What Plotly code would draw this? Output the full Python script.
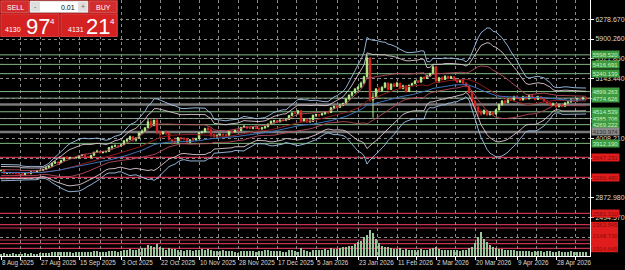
import plotly.graph_objects as go
import pandas as pd

# ---------------- data ----------------
pre_closes = [3355, 3343, 3324, 3347, 3339, 3350, 3397, 3432, 3387, 3368,
              3337, 3314, 3326, 3275, 3290, 3362, 3373, 3381, 3370, 3396]

opens = [3396, 3398, 3342, 3348, 3356, 3336, 3336, 3332, 3315, 3348,
         3339, 3372, 3365, 3393, 3397, 3416, 3448, 3476, 3533, 3559,
         3545, 3587, 3636, 3625, 3641, 3634, 3643, 3679, 3690, 3659,
         3644, 3685, 3746, 3763, 3736, 3749, 3759, 3833, 3858, 3866,
         3857, 3886, 3960, 3985, 4040, 3976, 4017, 4110, 4142, 4209,
         4326, 4251, 4356, 4125, 4095, 4126, 4112, 3982, 3952, 3930,
         4025, 4002, 4000, 3932, 3980, 3977, 4001, 4115, 4128, 4195,
         4171, 4084, 4046, 4067, 4078, 4077, 4065, 4135, 4130, 4164,
         4155, 4218, 4231, 4205, 4200, 4210, 4197, 4190, 4208, 4229,
         4280, 4330, 4345, 4322, 4358, 4350, 4365, 4445, 4490, 4480,
         4532, 4332, 4372, 4318, 4330, 4448, 4460, 4455, 4475, 4510,
         4500, 4590, 4615, 4600, 4640, 4670, 4760, 4830, 4880, 4950,
         4985, 5060, 5180, 5540, 4740, 4790, 4950, 4920, 4980, 5060,
         4940, 5040, 5000, 5060, 4960, 5010, 4900, 5020, 5050, 5100,
         5080, 5170, 5150, 5200, 5240, 5370, 5100, 5160, 5130, 5190,
         5150, 5180, 5120, 5080, 5110, 5060, 5000, 4880, 4720, 4600,
         4520, 4480, 4540, 4460, 4500, 4470, 4550, 4650, 4720, 4690,
         4760, 4740, 4800, 4770, 4740, 4800, 4760, 4820, 4790, 4750,
         4800, 4760, 4720, 4680, 4640, 4660, 4610, 4650, 4620, 4680,
         4700, 4740, 4720, 4760, 4750, 4780]

highs = [3409, 3405, 3360, 3370, 3360, 3345, 3350, 3338, 3350, 3352,
         3378, 3376, 3395, 3402, 3423, 3454, 3490, 3540, 3578, 3565,
         3600, 3645, 3674, 3655, 3650, 3656, 3686, 3703, 3707, 3670,
         3690, 3750, 3790, 3768, 3760, 3762, 3835, 3872, 3895, 3877,
         3890, 3976, 3990, 4060, 4045, 4020, 4117, 4180, 4218, 4380,
         4378, 4359, 4381, 4160, 4145, 4160, 4115, 3988, 4030, 4030,
         4035, 4030, 4005, 3995, 4025, 4020, 4120, 4150, 4210, 4245,
         4210, 4090, 4080, 4110, 4100, 4090, 4140, 4155, 4170, 4175,
         4225, 4265, 4240, 4228, 4225, 4260, 4215, 4220, 4240, 4290,
         4350, 4360, 4350, 4370, 4375, 4380, 4450, 4500, 4525, 4550,
         4550, 4390, 4380, 4400, 4460, 4480, 4470, 4500, 4520, 4530,
         4600, 4635, 4640, 4660, 4690, 4770, 4845, 4890, 4965, 5000,
         5090, 5200, 5595, 5550, 4880, 4965, 4990, 5000, 5080, 5070,
         5060, 5070, 5090, 5065, 5030, 5020, 5030, 5070, 5120, 5120,
         5180, 5190, 5220, 5260, 5410, 5390, 5180, 5190, 5210, 5200,
         5200, 5190, 5130, 5130, 5120, 5080, 5010, 4900, 4740, 4640,
         4560, 4560, 4550, 4530, 4520, 4570, 4670, 4740, 4750, 4780,
         4790, 4820, 4830, 4790, 4820, 4815, 4840, 4840, 4800, 4820,
         4810, 4770, 4730, 4700, 4690, 4670, 4670, 4660, 4700, 4720,
         4760, 4750, 4780, 4775, 4800, 4790]

lows = [3378, 3340, 3332, 3345, 3330, 3325, 3322, 3312, 3311, 3330,
        3322, 3358, 3352, 3380, 3385, 3404, 3440, 3470, 3525, 3510,
        3540, 3580, 3620, 3620, 3615, 3628, 3635, 3670, 3646, 3632,
        3640, 3680, 3740, 3720, 3722, 3740, 3755, 3790, 3852, 3830,
        3850, 3885, 3935, 3980, 3945, 3945, 4010, 4100, 4140, 4205,
        4218, 4240, 4080, 4004, 4080, 4075, 3970, 3887, 3915, 3920,
        3965, 3965, 3928, 3925, 3970, 3968, 3998, 4105, 4120, 4160,
        4032, 4010, 4000, 4060, 4040, 4020, 4060, 4100, 4125, 4140,
        4150, 4210, 4185, 4190, 4180, 4190, 4170, 4170, 4190, 4220,
        4270, 4290, 4310, 4315, 4330, 4335, 4360, 4430, 4470, 4475,
        4310, 4320, 4300, 4310, 4325, 4420, 4415, 4440, 4460, 4475,
        4495, 4570, 4580, 4590, 4620, 4660, 4740, 4800, 4860, 4920,
        4970, 5040, 5170, 4700, 4400, 4760, 4880, 4900, 4960, 4920,
        4930, 4980, 4990, 4940, 4940, 4880, 4890, 5000, 5040, 5060,
        5070, 5130, 5140, 5180, 5230, 5070, 5060, 5110, 5120, 5130,
        5140, 5100, 5060, 5070, 5040, 4980, 4860, 4700, 4570, 4420,
        4440, 4460, 4430, 4440, 4450, 4460, 4540, 4630, 4660, 4680,
        4720, 4730, 4750, 4720, 4730, 4740, 4750, 4770, 4730, 4740,
        4740, 4700, 4660, 4620, 4625, 4590, 4600, 4600, 4610, 4670,
        4690, 4700, 4710, 4730, 4740, 4745]

closes = [3398, 3342, 3348, 3356, 3336, 3336, 3332, 3315, 3348, 3339,
          3372, 3365, 3393, 3397, 3416, 3448, 3476, 3533, 3559, 3545,
          3587, 3636, 3625, 3641, 3634, 3643, 3679, 3690, 3659, 3644,
          3685, 3746, 3763, 3736, 3749, 3759, 3833, 3858, 3866, 3857,
          3886, 3960, 3985, 4040, 3976, 4017, 4110, 4142, 4209, 4326,
          4251, 4356, 4125, 4095, 4126, 4112, 3982, 3952, 3930, 4025,
          4002, 4000, 3932, 3980, 3977, 4001, 4115, 4128, 4195, 4171,
          4084, 4046, 4067, 4078, 4077, 4065, 4135, 4130, 4164, 4155,
          4218, 4231, 4205, 4200, 4210, 4197, 4190, 4208, 4229, 4280,
          4330, 4345, 4322, 4358, 4350, 4365, 4445, 4490, 4480, 4532,
          4332, 4372, 4318, 4330, 4448, 4460, 4455, 4475, 4510, 4500,
          4590, 4615, 4600, 4640, 4670, 4760, 4830, 4880, 4950, 4985,
          5060, 5180, 5540, 4740, 4790, 4950, 4920, 4980, 5060, 4940,
          5040, 5000, 5060, 4960, 5010, 4900, 5020, 5050, 5100, 5080,
          5170, 5150, 5200, 5240, 5370, 5100, 5160, 5130, 5190, 5150,
          5180, 5120, 5080, 5110, 5060, 5000, 4880, 4720, 4600, 4520,
          4480, 4540, 4460, 4500, 4470, 4550, 4650, 4720, 4690, 4760,
          4740, 4800, 4770, 4740, 4800, 4760, 4820, 4790, 4750, 4800,
          4760, 4720, 4680, 4640, 4660, 4610, 4650, 4620, 4680, 4700,
          4740, 4720, 4760, 4750, 4780, 4760]

volumes = [25, 30, 28, 26, 32, 22, 24, 27, 30, 26, 33, 25, 28, 30, 34, 36,
           40, 48, 45, 42, 50, 46, 44, 42, 40, 45, 48, 52, 46, 43, 50, 55, 58, 52, 48, 45, 60, 62, 55, 50, 58,
           70, 65, 80, 75, 72, 85, 88, 95, 130, 120, 110, 145, 100, 90, 75, 95,
           85, 80, 70, 68, 60, 72, 65, 62, 75, 70, 80, 72, 85, 70, 62, 60, 58, 65, 55, 60, 58, 52, 40, 62,
           58, 62, 55, 60, 52, 55, 58, 65, 70, 62, 58, 55, 60, 52, 48, 65, 72, 60, 50, 95, 70, 55, 45, 70,
           75, 68, 70, 80, 72, 90, 85, 80, 95, 100, 110, 120, 115, 140, 160, 180, 220, 250, 305, 270, 200,
           150, 120, 110, 100, 95, 85, 80, 90, 75, 85, 70, 75, 68, 72, 80, 70, 75, 82, 95, 110,
           85, 75, 70, 72, 65, 68, 70, 62, 65, 72,
           95, 110, 150, 220, 280, 200, 160, 130, 110, 95, 85, 80, 70, 75, 68, 65,
           60, 58, 62, 55, 60, 52, 58, 55, 60, 50, 55, 58, 52, 48, 55, 50, 52, 48, 55, 50, 45, 52, 48, 50]

date_labels = ["8 Aug 2025", "27 Aug 2025", "15 Sep 2025", "3 Oct 2025", "22 Oct 2025",
               "10 Nov 2025", "28 Nov 2025", "17 Dec 2025", "5 Jan 2026", "23 Jan 2026",
               "11 Feb 2026", "2 Mar 2026", "20 Mar 2026", "9 Apr 2026", "28 Apr 2026"]
date_label_bars = [0, 13, 26, 40, 53, 66, 79, 92, 105, 119, 132, 145, 158, 172, 185]

price_grid_base = 2116.16
price_grid_step = 378.41

green_levels = [5598.520, 5416.691, 5240.139, 4899.263, 4774.626,
                4514.539, 4385.706, 4269.222, 3912.190]
gray_levels = [4652.0, 4130.974]
red_levels = [3647.231, 3266.480, 2581.310, 2363.845, 2301.120,
              2072.450, 2002.318, 1914.645]
red_block_labels = [2363.845, 2148.730, 1914.645]   # texts legible inside the merged red block

bid_big, ask_big = "97", "21"
bid_small, ask_small = "4130", "4131"
lot_text = "0.01"

# ---------------- indicators: Bollinger-type bands on the closes ----------------
n = len(closes)
c_all = pd.Series(pre_closes + closes, dtype=float)
mid = c_all.rolling(20, min_periods=1).mean()
sd = c_all.rolling(20, min_periods=2).std(ddof=0).bfill()
ema = c_all.ewm(span=34, adjust=False).mean()
k0 = len(pre_closes)
xs = list(range(n))

def vis(s):
    return s.iloc[k0:].tolist()

# ---------------- figure ----------------
fig = go.Figure()

fig.add_trace(go.Bar(x=xs, y=volumes, yaxis="y2", marker_color="#9cc49c",
                     marker_line_width=0, width=0.35, showlegend=False))

band_specs = [(4.1, "#a2c4ea", 0.9), (3.1, "#dcc8d2", 0.9), (1.5, "#b44a5c", 0.9)]
for k, col, w in band_specs:
    fig.add_trace(go.Scatter(x=xs, y=vis(mid + k * sd), mode="lines",
                             line=dict(color=col, width=w), showlegend=False))
    fig.add_trace(go.Scatter(x=xs, y=vis(mid - k * sd), mode="lines",
                             line=dict(color=col, width=w), showlegend=False))
fig.add_trace(go.Scatter(x=xs, y=vis(mid), mode="lines",
                         line=dict(color="#8e1c1c", width=1), showlegend=False))
fig.add_trace(go.Scatter(x=xs, y=vis(ema), mode="lines",
                         line=dict(color="#3f6fb8", width=1), showlegend=False))

fig.add_trace(go.Candlestick(
    x=xs, open=opens, high=highs, low=lows, close=closes,
    increasing=dict(line=dict(color="#b8ee8c", width=1), fillcolor="#b8ee8c"),
    decreasing=dict(line=dict(color="#e02424", width=1), fillcolor="#e02424"),
    whiskerwidth=0, showlegend=False))

# horizontal level lines
shapes = []
for lv in green_levels:
    shapes.append(dict(type="line", xref="paper", x0=0, x1=1, yref="y", y0=lv, y1=lv,
                       line=dict(color="#7fb87f", width=1), layer="between"))
for lv in gray_levels:
    shapes.append(dict(type="line", xref="paper", x0=0, x1=1, yref="y", y0=lv, y1=lv,
                       line=dict(color="#7a7a7a", width=2.5), layer="between"))
for lv in red_levels:
    shapes.append(dict(type="line", xref="paper", x0=0, x1=1, yref="y", y0=lv, y1=lv,
                       line=dict(color="#c8304e", width=1.2), layer="between"))

# pixel helpers for the plot area
PW, PH = 590.0, 256.0
def px(v):
    return v / PW
def py(v):
    return 1 - v / PH

# merged red label block for the closely spaced low levels
shapes.append(dict(type="rect", xref="paper", yref="y", x0=px(591), x1=px(618),
                   y0=min(red_levels) - 75, y1=red_levels[3] + 55,
                   fillcolor="#e01c1c", line=dict(width=0), layer="above"))

def rect(x0, y0, x1, y1, fill, line=None):
    shapes.append(dict(type="rect", xref="paper", yref="paper",
                       x0=px(x0), x1=px(x1), y0=py(y1), y1=py(y0),
                       fillcolor=fill, line=dict(width=0.6 if line else 0, color=line or fill),
                       layer="above"))

# one-click trading panel
rect(0, 0, 118, 37, "#a81414")
rect(1, 1, 29, 12.5, "#d22c2c", "#e86a6a")
rect(30, 1, 88, 12.5, "#ffffff", "#bbbbbb")
rect(31, 2, 40, 11.5, "#dedede")
rect(78, 2, 87, 11.5, "#dedede")
rect(89, 1, 117, 12.5, "#d22c2c", "#e86a6a")
rect(1, 14, 59, 36.5, "#d42222", "#e65050")
rect(61, 14, 117, 36.5, "#d42222", "#e65050")

annotations = []
def txt(x, y, s, size, color, anchor="center", family="Liberation Sans"):
    annotations.append(dict(xref="paper", yref="paper", x=px(x), y=py(y), text=s,
                            showarrow=False, xanchor=anchor, yanchor="middle",
                            font=dict(size=size, color=color, family=family)))

txt(15.5, 7, "SELL", 7, "#ffffff")
txt(35.5, 6.5, "-", 7, "#666666")
txt(68, 7, lot_text, 7, "#000000")
txt(82.5, 6.5, "+", 7, "#666666")
txt(103, 7, "BUY", 7, "#ffffff")
txt(2.5, 29.5, bid_small, 7, "#ffffff", "left")
txt(37.5, 26, bid_big, 22, "#ffffff")
txt(52, 21, "4", 8, "#ffffff")
txt(66, 29.5, ask_small, 7, "#ffffff", "left")
txt(98, 26, ask_big, 22, "#ffffff")
txt(112, 21, "4", 8, "#ffffff")

# price label boxes on the right scale
def box(lv, bg, fg):
    annotations.append(dict(xref="paper", yref="y", x=px(591), y=lv, text=f"{lv:.3f}",
                            showarrow=False, xanchor="left", yanchor="middle",
                            bgcolor=bg, width=27, height=7, borderpad=0,
                            font=dict(size=6, color=fg, family="Liberation Sans")))
for lv in green_levels:
    box(lv, "#3e9a3e", "#c8f0c8")
box(gray_levels[1], "#8a8a8a", "#303030")
for lv in red_levels[:3]:
    box(lv, "#e01c1c", "#8a0c0c")
for lv in red_block_labels:
    annotations.append(dict(xref="paper", yref="y", x=px(591), y=lv, text=f"{lv:.3f}",
                            showarrow=False, xanchor="left", yanchor="middle",
                            width=27, height=7, borderpad=0,
                            font=dict(size=6, color="#8a0c0c", family="Liberation Sans")))

# axes ticks (labels covered by a level box are left blank, as on the terminal)
all_levels = green_levels + gray_levels[1:] + red_levels
y_ticks = [price_grid_base + k * price_grid_step for k in range(12)]
y_text = ["" if min(abs(v - lv) for lv in all_levels) < 60 else f"{v:.3f}" for v in y_ticks]

x_ticks, x_text = [], []
for i, (b, lab) in enumerate(zip(date_label_bars, date_labels)):
    x_ticks.append(b)
    x_text.append(lab)
    nb = date_label_bars[i + 1] if i + 1 < len(date_label_bars) else b + 13.3
    x_ticks.append((b + nb) / 2)
    x_text.append("")

fig.update_layout(
    width=625, height=270,
    margin=dict(l=0, r=35, t=0, b=14),
    paper_bgcolor="#000000", plot_bgcolor="#000000",
    showlegend=False,
    shapes=shapes, annotations=annotations,
    font=dict(family="Liberation Sans", color="#d8d8d8"),
    xaxis=dict(range=[-1 / 3, 590 / 3 - 1 / 3], tickvals=x_ticks, ticktext=x_text,
               tickfont=dict(size=6.3, color="#d8d8d8"), ticklabelposition="outside right",
               tickangle=0, automargin=False,
               showgrid=True, gridcolor="#8a8a8a", griddash="3px,3px", gridwidth=0.8,
               ticks="outside", ticklen=3, tickcolor="#ffffff",
               showline=True, linecolor="#ffffff", linewidth=1, zeroline=False,
               rangeslider=dict(visible=False), fixedrange=True),
    yaxis=dict(side="right", range=[1767.7, 6643.0], tickvals=y_ticks, ticktext=y_text,
               tickfont=dict(size=7, color="#d8d8d8"), automargin=False,
               showgrid=True, gridcolor="#8a8a8a", griddash="3px,3px", gridwidth=0.8,
               ticks="outside", ticklen=3, tickcolor="#ffffff",
               showline=True, linecolor="#ffffff", linewidth=1, zeroline=False),
    yaxis2=dict(overlaying="y", range=[0, 3000], visible=False),
    bargap=0,
)

fig.write_html("out.html")
